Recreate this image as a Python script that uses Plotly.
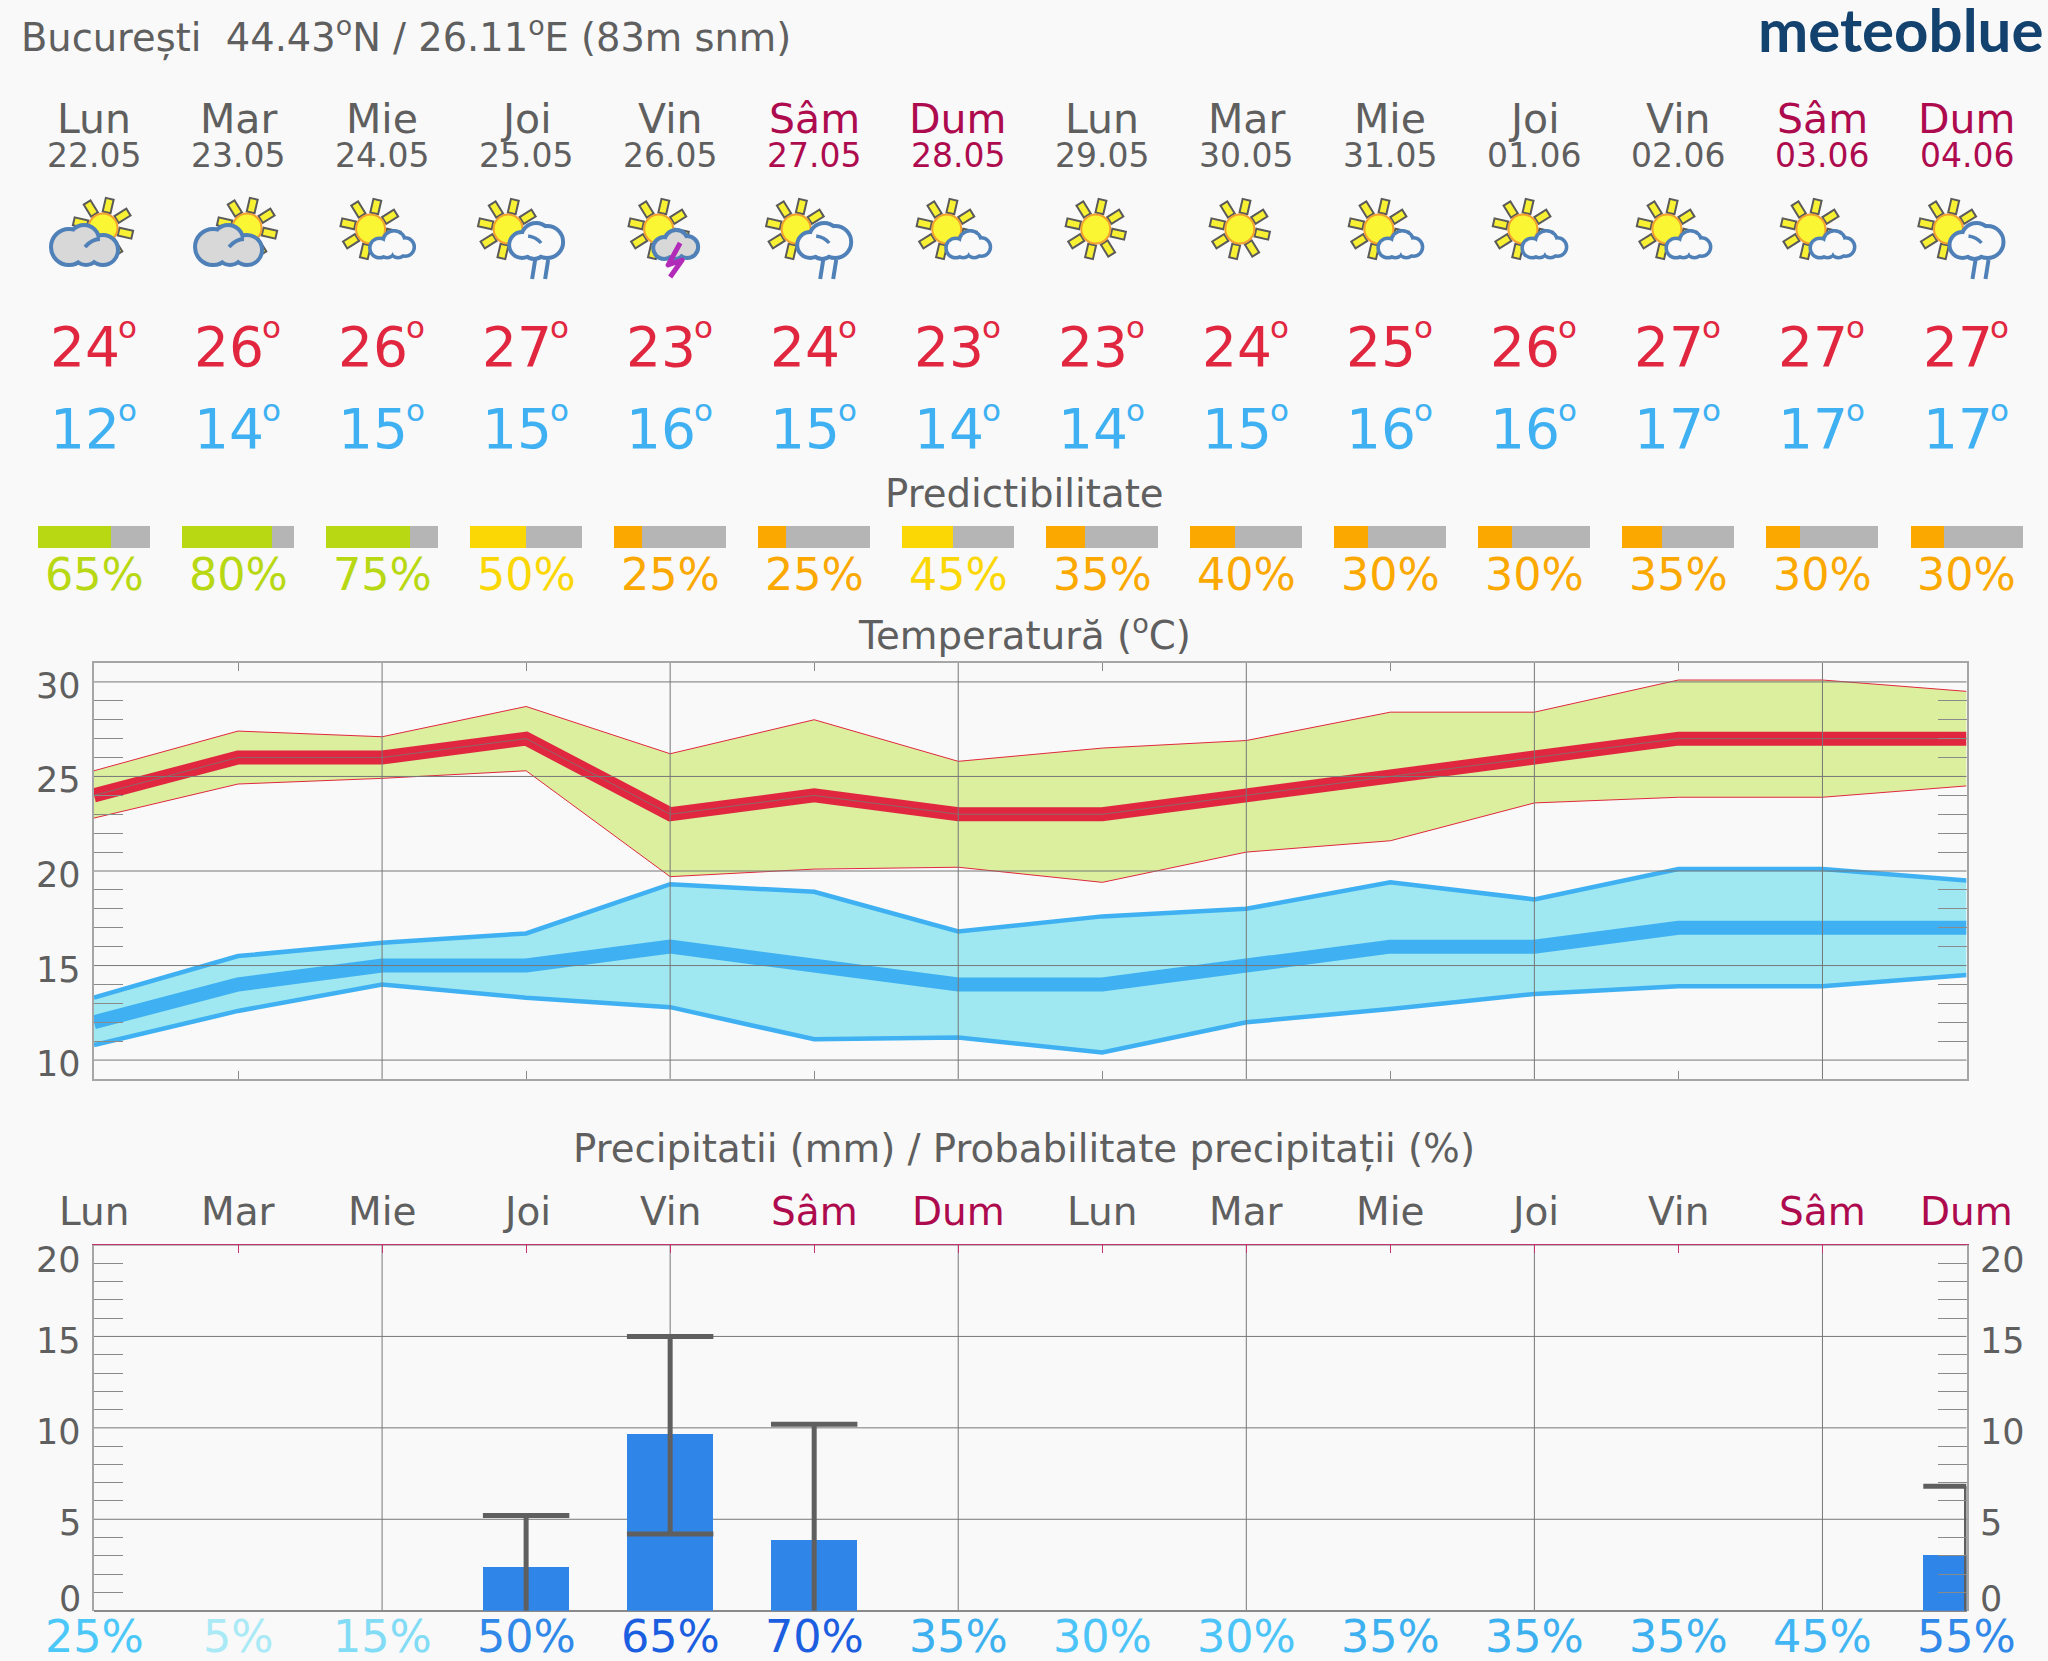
"""14-day meteogram for Bucuresti, rebuilt with plotly."""
import base64

import plotly.graph_objects as go

W, H = 2048, 1661
BG = "#f9f9f9"
FONT = "DejaVu Sans"
GREY = "#5f5f5f"
GRID = "#777777"
TICK = "#8a8a8a"
FRAME = "#a6a6a6"
WEEKEND = "#ae0b4f"
RED = "#e0273f"
BLUE = "#3fb0f1"

# ---------------------------------------------------------------------------
# Data
# ---------------------------------------------------------------------------
days = ["Lun", "Mar", "Mie", "Joi", "Vin", "Sâm", "Dum",
        "Lun", "Mar", "Mie", "Joi", "Vin", "Sâm", "Dum"]
dates = ["22.05", "23.05", "24.05", "25.05", "26.05", "27.05", "28.05",
         "29.05", "30.05", "31.05", "01.06", "02.06", "03.06", "04.06"]
icons = ["cloudy", "cloudy", "fair", "rain", "storm", "rain", "fair",
         "sun", "sun", "fair", "fair", "fair", "fair", "rain"]
day_index = list(range(14))

tmax = [24, 26, 26, 27, 23, 24, 23, 23, 24, 25, 26, 27, 27, 27]
tmax_hi = [25.3, 27.4, 27.1, 28.7, 26.2, 28.0, 25.8, 26.5, 26.9, 28.4, 28.4, 30.1, 30.1, 29.5]
tmax_lo = [22.8, 24.6, 24.9, 25.3, 19.7, 20.1, 20.2, 19.4, 21.0, 21.6, 23.6, 23.9, 23.9, 24.5]
tmin = [12, 14, 15, 15, 16, 15, 14, 14, 15, 16, 16, 17, 17, 17]
tmin_hi = [13.3, 15.5, 16.2, 16.7, 19.3, 18.9, 16.8, 17.6, 18.0, 19.4, 18.5, 20.1, 20.1, 19.5]
tmin_lo = [10.8, 12.6, 14.0, 13.3, 12.8, 11.1, 11.2, 10.4, 12.0, 12.7, 13.5, 13.9, 13.9, 14.5]

predict = [65, 80, 75, 50, 25, 25, 45, 35, 40, 30, 30, 35, 30, 30]
predict_colors = ["#b8d813", "#b8d813", "#b8d813", "#fad705", "#fba800", "#fba800", "#fad705",
                  "#fba800", "#fba800", "#fba800", "#fba800", "#fba800", "#fba800", "#fba800"]

rain = [0, 0, 0, 2.4, 9.67, 3.87, 0, 0, 0, 0, 0, 0, 0, 3.05]
rain_lo = [None, None, None, 0, 4.2, 0, None, None, None, None, None, None, None, 0]
rain_hi = [None, None, None, 5.2, 15, 10.2, None, None, None, None, None, None, None, 6.8]
rain_prob = [25, 5, 15, 50, 65, 70, 35, 30, 30, 35, 35, 35, 45, 55]
rain_prob_colors = ["#4cc8f8", "#aaeaf6", "#82dcf5", "#3088e8", "#1b5ee0", "#1b5ee0", "#3db0f0",
                    "#4cc4f8", "#4cc4f8", "#3db0f0", "#3db0f0", "#3db0f0", "#42b6f4", "#3088e8"]

temp_ticks = [10, 15, 20, 25, 30]
temp_minor = [v for v in range(10, 31) if v % 5]
rain_ticks = [0, 5, 10, 15, 20]
rain_minor = [v for v in range(1, 20) if v % 5]
rain_tick_shift = [12, -3.5, -3.7, -5, -15]

# ---------------------------------------------------------------------------
# Pixel helpers (figure is laid out on the full canvas)
# ---------------------------------------------------------------------------
X0, X1 = 94, 1966.5
STEP = (X1 - X0) / 13


def px(x):
    return x / W


def py(y):
    return 1 - y / H


def label(text, x, y, size, color=GREY, anchor="center", **kw):
    return dict(text=text, x=px(x), y=py(y), xref="paper", yref="paper", showarrow=False,
                xanchor=anchor, yanchor="middle", font=dict(family=FONT, size=size, color=color),
                borderpad=0, **kw)


# ---------------------------------------------------------------------------
# Weather icons, as small inline svg pictures
# ---------------------------------------------------------------------------
def sun_svg(cx, cy):
    rays = ""
    for a in (13, 58, 103, 148, 193, 238, 283, 328):
        rays += (f'<rect x="{cx - 4}" y="{cy - 30}" width="8" height="14" fill="#f8f133" '
                 f'stroke="#5a5a5a" stroke-width="2" transform="rotate({a} {cx} {cy})"/>')
    return rays + f'<circle cx="{cx}" cy="{cy}" r="14.5" fill="#faf634" stroke="#f2a12e" stroke-width="2"/>'


def cloud_svg(lobes, fill, sw):
    out = "".join(f'<circle cx="{x}" cy="{y}" r="{r}" fill="none" stroke="#4f81b8" stroke-width="{2 * sw}"/>'
                  for x, y, r in lobes)
    return out + "".join(f'<circle cx="{x}" cy="{y}" r="{r}" fill="{fill}"/>' for x, y, r in lobes)


def icon_svg(kind):
    # local frame: x = 70 on the day position, y = 0 at page row 190
    if kind == "cloudy":
        body = sun_svg(79, 38)
        body += cloud_svg([(45, 57, 16), (60, 50, 13), (79, 60, 13), (62, 62, 11)], "#d8d8d8", 4)
        body += '<path d="M61 57 Q68 49 76 49" fill="none" stroke="#4f81b8" stroke-width="4"/>'
    elif kind == "fair":
        body = sun_svg(58.5, 39)
        body += cloud_svg([(67.5, 58, 8), (82, 52, 9.5), (93, 57, 7.5), (75, 60, 6), (86, 60, 6)], BG, 3.5)
    elif kind == "rain":
        body = sun_svg(52, 39)
        body += cloud_svg([(66, 55, 11), (80, 48, 13), (91, 52, 14), (78, 57, 10)], BG, 4)
        body += '<path d="M72 46 Q80 47 85 53" fill="none" stroke="#4f81b8" stroke-width="3.5"/>'
        body += '<path d="M79 70 L76 89 M92 70 L89 89" fill="none" stroke="#4f81b8" stroke-width="4"/>'
    elif kind == "storm":
        body = sun_svg(58.5, 39)
        body += cloud_svg([(64, 58, 9), (76, 52, 10), (87, 57, 9), (75, 60, 7)], "#d8d8d8", 4)
        body += ('<path d="M80 53 L68 75 L82 70 L70 87" fill="none" stroke="#b22bb8" '
                 'stroke-width="5" stroke-linejoin="round"/>')
    else:
        body = sun_svg(63.5, 39)
    svg = f'<svg xmlns="http://www.w3.org/2000/svg" width="140" height="100" viewBox="0 0 140 100">{body}</svg>'
    return "data:image/svg+xml;base64," + base64.b64encode(svg.encode()).decode()


# ---------------------------------------------------------------------------
# Figure
# ---------------------------------------------------------------------------
fig = go.Figure()

# predictability strip: grey track with the share filled on top
track_w = 112 / STEP
fig.add_trace(go.Bar(x=[track_w] * 14, y=[0.5] * 14, base=[i - track_w / 2 for i in day_index], width=1,
                     orientation="h", marker=dict(color="#b5b5b5", line_width=0),
                     xaxis="x3", yaxis="y3", hoverinfo="skip"))
fig.add_trace(go.Bar(x=[track_w * p / 100 for p in predict], y=[0.5] * 14,
                     base=[i - track_w / 2 for i in day_index], width=1,
                     orientation="h", marker=dict(color=predict_colors, line_width=0),
                     xaxis="x3", yaxis="y3", hoverinfo="skip"))

# temperature bands
fig.add_trace(go.Scatter(x=day_index, y=tmax_lo, mode="lines", line=dict(color=RED, width=1),
                         xaxis="x", yaxis="y"))
fig.add_trace(go.Scatter(x=day_index, y=tmax_hi, mode="lines", line=dict(color=RED, width=1),
                         fill="tonexty", fillcolor="#dbef9f", xaxis="x", yaxis="y"))
fig.add_trace(go.Scatter(x=day_index, y=tmin_lo, mode="lines", line=dict(color=BLUE, width=4.5),
                         xaxis="x", yaxis="y"))
fig.add_trace(go.Scatter(x=day_index, y=tmin_hi, mode="lines", line=dict(color=BLUE, width=4.5),
                         fill="tonexty", fillcolor="#9fe8f1", xaxis="x", yaxis="y"))
fig.add_trace(go.Scatter(x=day_index, y=tmax, mode="lines", line=dict(color=RED, width=14),
                         xaxis="x", yaxis="y"))
fig.add_trace(go.Scatter(x=day_index, y=tmax, mode="lines", line=dict(color=GRID, width=0.8),
                         xaxis="x", yaxis="y"))
fig.add_trace(go.Scatter(x=day_index, y=tmin, mode="lines", line=dict(color=BLUE, width=14),
                         xaxis="x", yaxis="y"))

# precipitation bars and their range whiskers
fig.add_trace(go.Bar(x=day_index, y=rain, width=0.6, marker=dict(color="#3086e8", line_width=0),
                     xaxis="x2", yaxis="y2"))
wx, wy = [], []
for i, lo, hi in zip(day_index, rain_lo, rain_hi):
    if hi is None:
        continue
    wx += [i, i, None, i - 0.3, min(i + 0.3, 13), None]
    wy += [lo, hi, None, hi, hi, None]
    if lo > 0:
        wx += [i - 0.3, min(i + 0.3, 13), None]
        wy += [lo, lo, None]
fig.add_trace(go.Scatter(x=wx, y=wy, mode="lines", line=dict(color=GREY, width=5), cliponaxis=False,
                         xaxis="x2", yaxis="y2"))

# ---------------------------------------------------------------------------
# Texts
# ---------------------------------------------------------------------------
notes = [
    label("București  44.43<sup>o</sup>N / 26.11<sup>o</sup>E (83m snm)", 20, 36, 38.4, anchor="left"),
    label("Predictibilitate", 1024, 493, 38.7),
    label("Temperatură (<sup>o</sup>C)", 1024, 633, 38.7),
    label("Precipitatii (mm) / Probabilitate precipitații (%)", 1024, 1149, 38.7),
]
notes.append(dict(text="meteoblue", x=px(2045), y=py(29), xref="paper", yref="paper", showarrow=False,
                  xanchor="right", yanchor="middle",
                  font=dict(family="Lato", size=60, color="#13426f", weight=700)))

for i in day_index:
    x = X0 + i * STEP
    col = WEEKEND if days[i] in ("Sâm", "Dum") else GREY
    notes.append(label(days[i], x, 119, 41, col))
    notes.append(label(dates[i], x, 155, 33, col))
    notes.append(label(str(tmax[i]), x - 9, 347, 55, RED))
    notes.append(label("o", x + 33, 327, 31, RED))
    notes.append(label(str(tmin[i]), x - 9, 429, 55, BLUE))
    notes.append(label("o", x + 33, 410, 31, BLUE))
    notes.append(label(f"{predict[i]}%", x, 574, 44.5, predict_colors[i]))
    notes.append(label(days[i], x, 1211, 39, col))
    notes.append(label(f"{rain_prob[i]}%", x, 1636, 44.5, rain_prob_colors[i]))

for v in temp_ticks:
    notes.append(dict(text=str(v), x=px(83), y=v, xref="paper", yref="y", showarrow=False,
                      xanchor="right", yanchor="middle", yshift=-4,
                      font=dict(family=FONT, size=35, color=GREY)))
for v, shift in zip(rain_ticks, rain_tick_shift):
    for x, anchor in ((83, "right"), (1978, "left")):
        notes.append(dict(text=str(v), x=px(x), y=v, xref="paper", yref="y2", showarrow=False,
                          xanchor=anchor, yanchor="middle", yshift=shift,
                          font=dict(family=FONT, size=35, color=GREY)))

# ---------------------------------------------------------------------------
# Grid lines: over the bands in the temperature panel, under the bars below
# ---------------------------------------------------------------------------
shapes = []
for v in temp_ticks:
    shapes.append(dict(type="line", xref="x domain", yref="y", x0=0, x1=1, y0=v, y1=v,
                       line=dict(color=GRID, width=1), layer="above"))
for v in rain_ticks[1:]:
    shapes.append(dict(type="line", xref="x2 domain", yref="y2", x0=0, x1=1, y0=v, y1=v,
                       line=dict(color=GRID, width=1), layer="below"))
for i in day_index[2:13:2]:
    shapes.append(dict(type="line", xref="x", yref="y domain", x0=i, x1=i, y0=0, y1=1,
                       line=dict(color=GRID, width=1), layer="above"))
    shapes.append(dict(type="line", xref="x2", yref="y2 domain", x0=i, x1=i, y0=0, y1=1,
                       line=dict(color=GRID, width=1), layer="below"))

images = [dict(source=icon_svg(kind), xref="paper", yref="paper", x=px(X0 + i * STEP - 70), y=py(190),
               sizex=px(140), sizey=100 / H, xanchor="left", yanchor="top", layer="above",
               sizing="stretch")
          for i, kind in enumerate(icons)]


def minor_ticks(vals):
    return dict(ticks="inside", ticklen=29, tickcolor=TICK, tickwidth=1, tickmode="array", tickvals=vals,
                showgrid=False)


fig.update_layout(
    width=W, height=H, margin=dict(l=0, r=0, t=0, b=0, pad=0),
    paper_bgcolor=BG, plot_bgcolor=BG, showlegend=False, barmode="overlay", bargap=0,
    font=dict(family=FONT, color=GREY),
    annotations=notes, shapes=shapes, images=images,
    xaxis=dict(domain=[px(X0), px(X1)], range=[0, 13], tickvals=day_index[1::2], ticks="inside", ticklen=8,
               tickcolor=TICK, tickwidth=1, showticklabels=False, showgrid=False, zeroline=False,
               showline=True, linecolor=FRAME, linewidth=1.5, mirror="ticks", anchor="y", layer="above traces"),
    yaxis=dict(domain=[py(1079), py(663)], range=[9, 31], tickvals=temp_ticks, ticks="", minor=minor_ticks(temp_minor),
               showticklabels=False, showgrid=False, zeroline=False, showline=True, linecolor=FRAME,
               linewidth=1.5, mirror="ticks", anchor="x", layer="above traces"),
    xaxis2=dict(domain=[px(X0), px(X1)], range=[0, 13], tickvals=day_index, side="top", ticks="inside", ticklen=8,
                tickcolor="#c8326e", tickwidth=1, showticklabels=False, showgrid=False, zeroline=False,
                showline=True, linecolor="#c8326e", linewidth=1, anchor="y2"),
    yaxis2=dict(domain=[py(1610.7), py(1245)], range=[0, 20], tickvals=rain_ticks, ticks="", minor=minor_ticks(rain_minor),
                showticklabels=False, showgrid=False, zeroline=True, zerolinecolor=TICK, zerolinewidth=2,
                showline=True, linecolor=FRAME, linewidth=1.5, mirror="ticks", anchor="x2", layer="above traces"),
    xaxis3=dict(domain=[0, 1], range=[-X0 / STEP, (W - X0) / STEP], visible=False, anchor="y3"),
    yaxis3=dict(domain=[py(548), py(525.5)], range=[0, 1], visible=False, anchor="x3"),
)

fig.write_html("out.html", config=dict(displayModeBar=False),
               post_script="document.body.style.margin='0';document.body.style.background='%s';" % BG)
